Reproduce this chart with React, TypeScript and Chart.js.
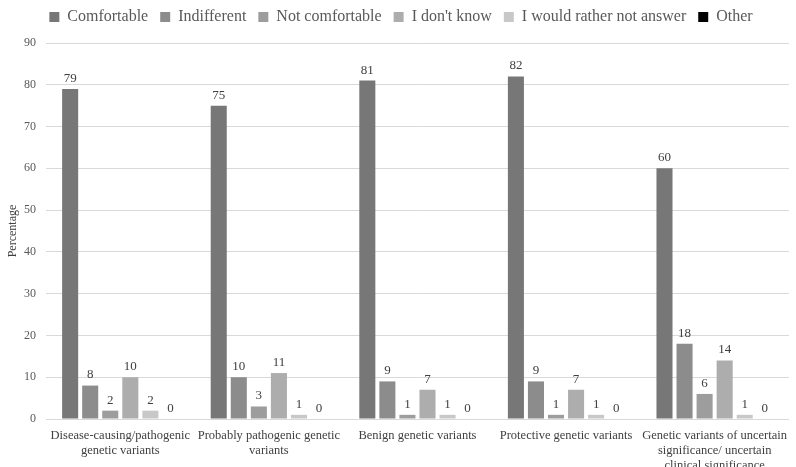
import React, { useEffect, useRef } from "react";
import { Chart, registerables } from "chart.js";

Chart.register(...registerables);

const categories: (string | string[])[] = [
  ["Disease-causing/pathogenic", "genetic variants"],
  ["Probably pathogenic genetic", "variants"],
  "Benign genetic variants",
  "Protective genetic variants",
  ["Genetic variants of uncertain", "significance/ uncertain", "clinical significance"],
];

const comfortable = [79, 75, 81, 82, 60];
const indifferent = [8, 10, 9, 9, 18];
const notComfortable = [2, 3, 1, 1, 6];
const dontKnow = [10, 11, 7, 7, 14];
const ratherNot = [2, 1, 1, 1, 1];
const other = [0, 0, 0, 0, 0];

const yTicks = [0, 10, 20, 30, 40, 50, 60, 70, 80, 90];

const FONT = "'Liberation Serif', 'DejaVu Serif', serif";

const valueLabels = {
  id: "valueLabels",
  afterDatasetsDraw(chart: any) {
    const ctx = chart.ctx;
    ctx.save();
    ctx.font = `13px ${FONT}`;
    ctx.fillStyle = "#404040";
    ctx.textAlign = "center";
    ctx.textBaseline = "bottom";
    chart.data.datasets.forEach((ds: any, i: number) => {
      const meta = chart.getDatasetMeta(i);
      meta.data.forEach((bar: any, j: number) => {
        ctx.fillText(String(ds.data[j]), bar.x, bar.y - 4);
      });
    });
    ctx.restore();
  },
};

// Adds extra room beneath the legend before the plot area starts.
const legendGap = {
  id: "legendGap",
  beforeInit(chart: any) {
    const legend = chart.legend;
    if (!legend) return;
    const fit = legend.fit;
    legend.fit = function () {
      fit.call(this);
      this.height += 8;
    };
  },
};

export default function App() {
  const ref = useRef<HTMLCanvasElement | null>(null);

  useEffect(() => {
    if (!ref.current) return;
    const chart = new Chart(ref.current, {
      type: "bar",
      data: {
        labels: categories,
        datasets: [
          { label: "Comfortable", data: comfortable, backgroundColor: "#777777" },
          { label: "Indifferent", data: indifferent, backgroundColor: "#8c8c8c" },
          { label: "Not comfortable", data: notComfortable, backgroundColor: "#9d9d9d" },
          { label: "I don't know", data: dontKnow, backgroundColor: "#adadad" },
          { label: "I would rather not answer", data: ratherNot, backgroundColor: "#c8c8c8" },
          { label: "Other", data: other, backgroundColor: "#000000" },
        ],
      },
      options: {
        responsive: false,
        animation: false,
        maintainAspectRatio: false,
        layout: { padding: { top: -3, right: 0, left: 6, bottom: 0 } },
        datasets: {
          bar: { barPercentage: 0.8, categoryPercentage: 0.81 },
        },
        plugins: {
          legend: {
            position: "top",
            align: "center",
            labels: {
              boxWidth: 10,
              boxHeight: 10,
              padding: 12,
              color: "#595959",
              font: { family: FONT, size: 16 },
            },
          },
          tooltip: { enabled: false },
        },
        scales: {
          x: {
            grid: { display: false, drawTicks: false },
            border: { color: "#d9d9d9", width: 1 },
            ticks: {
              color: "#404040",
              font: { family: FONT, size: 12.5 },
              padding: 9,
              maxRotation: 0,
              autoSkip: false,
            },
            afterFit(scale: any) {
              scale.height = 48;
            },
          },
          y: {
            min: 0,
            max: 90,
            afterBuildTicks(scale: any) {
              scale.ticks = yTicks.map((v) => ({ value: v }));
            },
            afterFit(scale: any) {
              scale.width = 40;
            },
            grid: { color: "#d9d9d9", drawTicks: false },
            border: { display: false },
            ticks: {
              color: "#595959",
              font: { family: FONT, size: 12 },
              padding: 10,
            },
            title: {
              display: true,
              text: "Percentage",
              color: "#404040",
              font: { family: FONT, size: 12 },
              padding: 0,
            },
          },
        },
      },
      plugins: [legendGap, valueLabels],
    });
    return () => chart.destroy();
  }, []);

  return (
    <div style={{ position: "fixed", left: 0, top: 0, width: 796, height: 467, background: "#ffffff" }}>
      <canvas ref={ref} width={796} height={467} />
    </div>
  );
}
